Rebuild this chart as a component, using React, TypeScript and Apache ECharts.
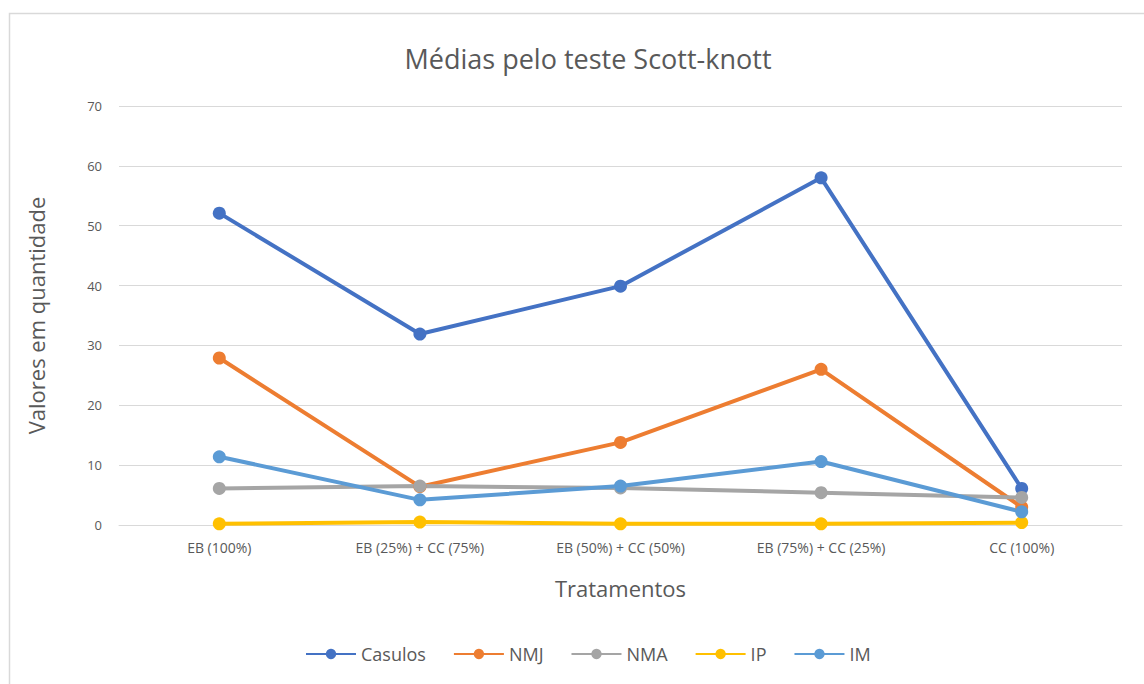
import React, { useEffect, useRef } from "react";
import * as echarts from "echarts";

const categories = ["EB (100%)", "EB (25%) + CC (75%)", "EB (50%) + CC (50%)", "EB (75%) + CC (25%)", "CC (100%)"];
const casulos = [52.1, 31.9, 39.9, 58.0, 6.1];
const nmj = [27.9, 6.4, 13.8, 26.0, 3.0];
const nma = [6.1, 6.5, 6.2, 5.4, 4.6];
const ip = [0.2, 0.5, 0.2, 0.2, 0.4];
const im = [11.4, 4.2, 6.5, 10.6, 2.2];

const seriesNames = ["Casulos", "NMJ", "NMA", "IP", "IM"];
const seriesColors = ["#4472C4", "#ED7D31", "#A5A5A5", "#FFC000", "#5B9BD5"];
const seriesData = [casulos, nmj, nma, ip, im];

const FONT = "'Open Sans', 'Liberation Sans', sans-serif";

export default function App() {
  const ref = useRef<HTMLDivElement>(null);
  useEffect(() => {
    if (!ref.current) return;
    const chart = echarts.init(ref.current, undefined, { renderer: "svg" });
    chart.setOption({
      animation: false,
      backgroundColor: "#ffffff",
      graphic: [
        {
          type: "rect",
          shape: { x: 9.5, y: 13.5, width: 1200, height: 700 },
          style: { fill: "none", stroke: "#d9d9d9", lineWidth: 1.5 },
          silent: true,
        },
      ],
      title: {
        text: "Médias pelo teste Scott-knott",
        left: 583,
        textAlign: "center",
        top: 40,
        textStyle: { fontFamily: FONT, fontSize: 27, fontWeight: "normal", color: "#595959" },
      },
      legend: {
        data: seriesNames,
        bottom: 16,
        left: 300,
        itemWidth: 50,
        itemHeight: 13,
        itemGap: 27,
        textStyle: { fontFamily: FONT, fontSize: 18, color: "#595959" },
      },
      grid: { left: 119, right: 22, top: 106, bottom: 159 },
      xAxis: {
        type: "category",
        data: categories,
        boundaryGap: true,
        name: "Tratamentos",
        nameLocation: "middle",
        nameGap: 52,
        nameTextStyle: { fontFamily: FONT, fontSize: 22, color: "#595959" },
        axisLine: { show: true, lineStyle: { color: "#d9d9d9" } },
        axisTick: { show: false },
        axisLabel: { fontFamily: FONT, fontSize: 14, color: "#595959", margin: 15 },
      },
      yAxis: {
        type: "value",
        min: 0,
        max: 70,
        interval: 10,
        name: "Valores em quantidade",
        nameLocation: "middle",
        nameGap: 72,
        nameTextStyle: { fontFamily: FONT, fontSize: 22, color: "#595959" },
        axisLine: { show: false },
        axisTick: { show: false },
        axisLabel: { fontFamily: FONT, fontSize: 13, color: "#595959", margin: 17 },
        splitLine: { lineStyle: { color: "#d9d9d9", width: 1 } },
      },
      series: seriesNames.map((name, i) => ({
        name,
        type: "line",
        data: seriesData[i],
        symbol: "circle",
        symbolSize: 13,
        color: seriesColors[i],
        lineStyle: { width: 4, color: seriesColors[i] },
        itemStyle: { color: seriesColors[i] },
      })),
    });
    return () => chart.dispose();
  }, []);
  return (
    <div
      ref={ref}
      style={{ position: "fixed", left: 0, top: 0, width: 1144, height: 684 }}
    />
  );
}
